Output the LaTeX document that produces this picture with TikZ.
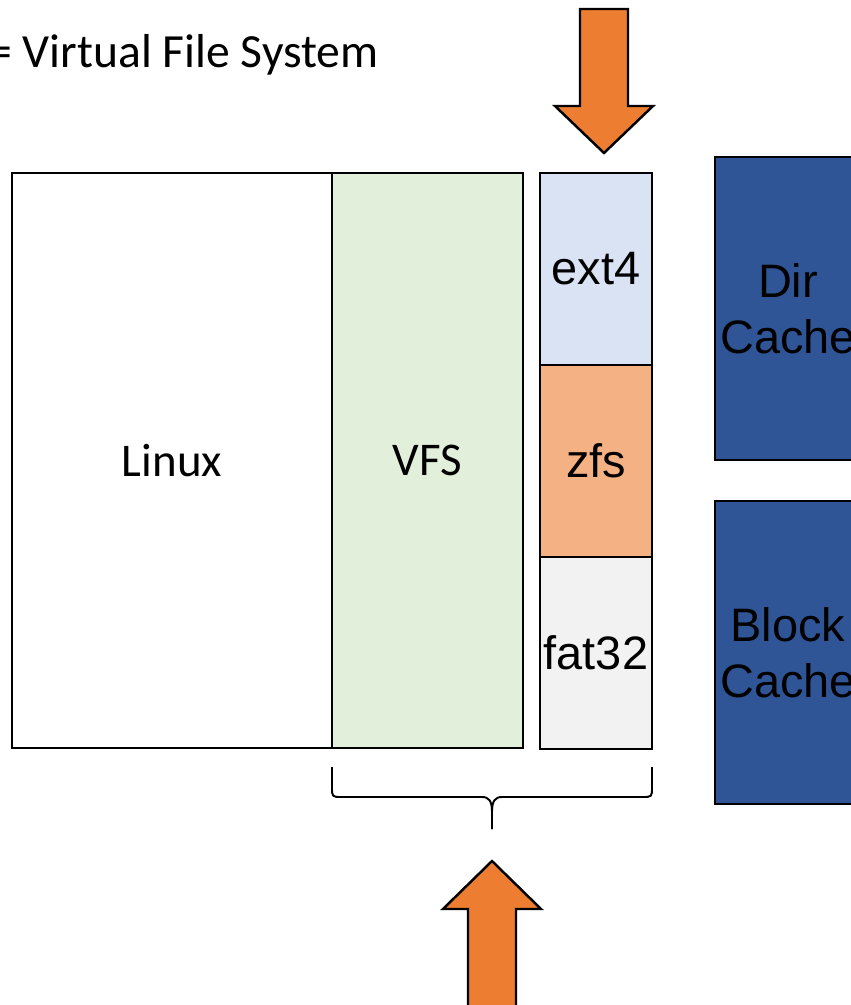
\documentclass[tikz,border=0pt]{standalone}
\usepackage{fontspec}
\setmainfont{Carlito}
\newfontfamily\arialfont{Liberation Sans}
\usepackage{tikz}
\usetikzlibrary{positioning}
\usetikzlibrary{calc}

\definecolor{vfsgreen}{HTML}{E2EFDA}
\definecolor{extblue}{HTML}{DAE3F3}
\definecolor{zfsorange}{HTML}{F4B183}
\definecolor{fatgray}{HTML}{F2F2F2}
\definecolor{cacheblue}{HTML}{2F5597}
\definecolor{arroworange}{HTML}{ED7D31}

\tikzset{
  layer/.style={draw=black, line width=1.1pt, outer sep=0pt, inner sep=0pt,
                minimum height=11.5cm, font=\fontsize{26.7}{32}\selectfont},
  fsbox/.style={draw=black, line width=1.1pt, outer sep=0pt, inner sep=0pt,
                minimum width=2.24cm, minimum height=3.84cm,
                font=\arialfont\fontsize{26.7}{32}\selectfont},
  cachebox/.style={draw=black, fill=cacheblue, line width=1.1pt, outer sep=0pt,
                inner sep=0pt, minimum width=2.92cm, minimum height=6.06cm,
                align=center, font=\arialfont\fontsize{26.7}{32}\selectfont},
  blockarrow/.style={draw=black, fill=arroworange, line width=1.4pt, line join=miter},
  bracket/.style={draw=black, line width=1.1pt, line join=round}
}

\begin{document}
\begin{tikzpicture}[x=0.02cm, y=-0.02cm]

  \useasboundingbox (0,0) rectangle (851,1005);

  % Heading
  \node[anchor=base west, inner sep=0pt, font=\fontsize{27.1}{32}\selectfont]
       (title) at (-12,67) {= Virtual File System};

  % Kernel layers
  \node[layer, fill=white, minimum width=6.4cm] (linux) at (172,460.5) {Linux};
  \node[layer, fill=vfsgreen, minimum width=3.82cm, right=0pt of linux] (vfs) {VFS};

  % File systems
  \node[fsbox, fill=extblue, anchor=north west] (ext4) at (540,173) {ext4};
  \node[fsbox, fill=zfsorange, below=0pt of ext4] (zfs) {zfs};
  \node[fsbox, fill=fatgray, below=0pt of zfs] (fat32) {fat32};

  % Caches
  \node[cachebox, anchor=north west] (dircache) at (715,157) {Dir\\Cache};
  \node[cachebox, anchor=north west] (blockcache) at (715,501) {Block\\Cache};

  % Incoming call
  \draw[blockarrow] (580,9) -- (628,9) -- (628,106) -- (653,106) -- (604,153)
                    -- (555,106) -- (580,106) -- cycle;

  % Brace under VFS and file systems
  \coordinate (braceL) at (332,767);
  \coordinate (braceR) at (652,767);
  \coordinate (braceTip) at (492,829);
  \draw[bracket] (braceL) -- (332,787) .. controls (332,797) .. (342,797)
        -- (482,797) .. controls (489,797) and (492,801) .. (492,812)
        -- (braceTip);
  \draw[bracket] (braceR) -- (652,787) .. controls (652,797) .. (642,797)
        -- (502,797) .. controls (495,797) and (492,801) .. (492,812)
        -- (braceTip);

  % Outgoing call
  \draw[blockarrow] (492,861) -- (541,909) -- (516,909) -- (516,1015)
                    -- (468,1015) -- (468,909) -- (443,909) -- cycle;

\end{tikzpicture}
\end{document}
